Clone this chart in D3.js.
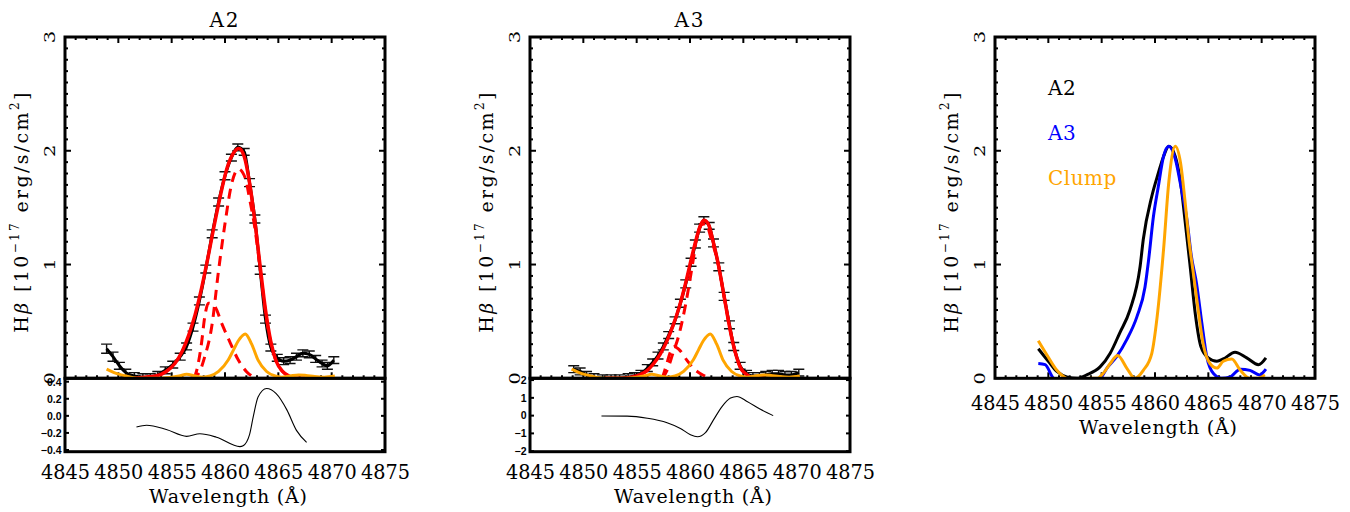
<!DOCTYPE html>
<html><head><meta charset="utf-8">
<script src="https://cdn.jsdelivr.net/npm/d3@7"></script>
<style>
body{margin:0;background:#fff}
svg{display:block}
text{font-family:"DejaVu Serif","Liberation Serif",serif;fill:#000}
.res{font-family:"Liberation Sans","DejaVu Sans",Arial,sans-serif;font-weight:bold}
</style>
</head><body>
<svg id="c" width="1350" height="512"></svg>
<script>
// ---------------- DATA ----------------
const xTicks = [4845, 4850, 4855, 4860, 4865, 4870, 4875];
const yTicks = [0, 1, 2, 3];
const resTicksA2 = [0.4, 0.2, 0.0, -0.2, -0.4];
const resTicksA3 = [2, 1, 0, -1, -2];
const legendLabels = ["A2", "A3", "Clump"];

// A2 observed spectrum
const a2Wave = [4848.9,4849.5,4850.1,4850.7,4851.5,4852.3,4853.0,4853.7,4854.4,4855.1,4855.8,4856.4,4857.0,4857.6,4858.2,4858.8,4859.4,4860.0,4860.6,4861.2,4861.8,4862.3,4862.8,4863.3,4863.8,4864.3,4864.9,4865.5,4866.1,4866.7,4867.3,4867.9,4868.5,4869.1,4869.6,4870.2];
const a2Flux = [0.26,0.19,0.11,0.05,0.02,0.01,0.01,0.03,0.07,0.12,0.19,0.28,0.45,0.68,0.96,1.27,1.55,1.78,1.94,2.03,1.99,1.72,1.40,0.95,0.52,0.27,0.18,0.15,0.16,0.19,0.22,0.21,0.17,0.13,0.11,0.16];
const a2Err  = [0.04,0.04,0.03,0.03,0.03,0.03,0.03,0.03,0.03,0.03,0.03,0.03,0.035,0.035,0.035,0.035,0.035,0.035,0.03,0.03,0.03,0.035,0.035,0.035,0.035,0.03,0.03,0.03,0.03,0.03,0.03,0.03,0.03,0.03,0.03,0.03];
// A2 fits
const a2TotWave = [4851.5,4852.5,4853.5,4854.5,4855.3,4856.0,4856.6,4857.2,4857.8,4858.4,4859.0,4859.6,4860.2,4860.8,4861.3,4861.8,4862.3,4862.8,4863.3,4863.8,4864.3,4864.8,4865.4,4866.0,4866.6,4867.5];
const a2TotFlux = [0.00,0.01,0.02,0.06,0.13,0.24,0.38,0.56,0.79,1.06,1.35,1.62,1.85,1.98,2.02,1.95,1.72,1.38,0.98,0.60,0.32,0.15,0.06,0.02,0.00,0.00];
const a2NarWave = [4856.8,4857.5,4858.1,4858.75,4859.4,4860.0,4860.6,4861.25,4861.9,4862.3,4862.8,4863.3,4863.8,4864.3,4864.8,4865.4,4866.0,4866.6];
const a2NarFlux = [0.00,0.04,0.19,0.45,0.95,1.36,1.70,1.84,1.76,1.58,1.32,0.96,0.58,0.31,0.15,0.06,0.02,0.00];
const a2BroWave = [4857.1,4857.35,4857.8,4858.1,4858.45,4859.05,4859.7,4860.5,4861.25,4862.0,4862.9];
const a2BroFlux = [0.00,0.07,0.31,0.54,0.66,0.63,0.48,0.31,0.16,0.06,0.00];
const a2Res = [[4851.7,-0.13],[4852.65,-0.11],[4854.5,-0.16],[4856.4,-0.24],[4857.65,-0.21],[4859.2,-0.25],[4861.4,-0.36],[4861.7,-0.35],[4862.3,-0.22],[4862.65,-0.01],[4863.1,0.22],[4863.9,0.32],[4864.8,0.26],[4865.8,0.07],[4866.7,-0.17],[4867.65,-0.31]];

// A3 observed spectrum
const a3Wave = [4849.1,4849.7,4850.3,4851.0,4851.8,4852.6,4853.4,4854.2,4854.8,4855.4,4856.0,4856.5,4857.0,4857.5,4858.0,4858.6,4859.1,4859.6,4860.1,4860.5,4860.9,4861.3,4861.8,4862.2,4862.7,4863.2,4863.7,4864.1,4864.7,4865.3,4865.9,4866.5,4867.1,4867.7,4868.3,4868.9,4869.5,4870.2];
const a3Flux = [0.08,0.06,0.03,0.01,0.00,0.00,0.00,0.01,0.02,0.04,0.09,0.14,0.20,0.28,0.38,0.51,0.66,0.83,1.02,1.18,1.32,1.39,1.34,1.19,0.98,0.72,0.47,0.28,0.11,0.04,0.02,0.02,0.03,0.04,0.04,0.03,0.03,0.05];
const a3Err  = [0.03,0.03,0.03,0.03,0.03,0.03,0.03,0.03,0.03,0.03,0.03,0.03,0.03,0.03,0.03,0.03,0.035,0.035,0.035,0.035,0.035,0.03,0.03,0.035,0.035,0.035,0.035,0.035,0.03,0.03,0.03,0.03,0.03,0.03,0.03,0.03,0.03,0.03];
const a3TotWave = [4852.0,4853.5,4854.5,4855.3,4856.0,4856.6,4857.2,4857.8,4858.4,4859.0,4859.6,4860.1,4860.6,4861.0,4861.3,4861.7,4862.2,4862.7,4863.2,4863.65,4864.1,4864.7,4865.35,4866.0,4867.0];
const a3TotFlux = [0.00,0.00,0.01,0.03,0.07,0.13,0.21,0.32,0.46,0.63,0.84,1.04,1.23,1.35,1.39,1.36,1.19,0.98,0.72,0.48,0.28,0.10,0.03,0.00,0.00];
const a3NarWave = [4857.4,4857.9,4858.4,4858.9,4859.55,4860.2,4860.65,4861.1,4861.5,4862.0,4862.7,4863.2,4863.65,4864.1,4864.7,4865.35,4866.0];
const a3NarFlux = [0.00,0.08,0.22,0.36,0.63,0.98,1.24,1.35,1.36,1.22,0.98,0.72,0.48,0.28,0.10,0.03,0.00];
const a3BroWave = [4857.4,4857.8,4858.2,4858.5,4859.0,4859.7,4860.3,4861.0,4861.9];
const a3BroFlux = [0.00,0.12,0.24,0.28,0.25,0.16,0.09,0.04,0.00];
const a3Res = [[4851.7,-0.02],[4854.1,-0.03],[4856.0,-0.15],[4857.85,-0.40],[4859.1,-0.72],[4860.0,-1.06],[4860.7,-1.19],[4861.45,-0.96],[4862.2,-0.24],[4863.0,0.51],[4863.8,0.99],[4864.4,1.08],[4865.35,0.80],[4866.6,0.36],[4867.8,0.0]];

// Clump profile as drawn in the A2/A3 panels
const clumpWave = [4848.9,4849.6,4850.3,4851.2,4852.0,4853.0,4854.0,4855.0,4855.7,4856.4,4857.2,4857.9,4858.6,4859.4,4860.3,4860.8,4861.25,4861.9,4862.5,4863.1,4863.9,4864.7,4865.3,4866.1,4866.9,4867.6,4868.4,4869.3,4870.3];
const clumpFlux = [0.08,0.05,0.03,0.01,0.00,0.00,0.00,0.01,0.02,0.035,0.02,0.01,0.02,0.06,0.16,0.25,0.33,0.39,0.30,0.16,0.06,0.02,0.01,0.02,0.03,0.025,0.015,0.01,0.02];

// Comparison panel (normalised profiles)
const cmpA2Wave = [4849.06,4850.0,4850.8,4851.8,4852.7,4853.6,4854.85,4855.8,4856.7,4857.65,4858.6,4858.9,4859.7,4860.3,4860.8,4861.3,4861.9,4862.4,4862.8,4863.3,4863.8,4864.3,4865.0,4865.8,4866.4,4867.5,4868.6,4869.7,4870.4];
const cmpA2Flux = [0.26,0.15,0.06,0.01,0.00,0.03,0.10,0.22,0.40,0.60,0.98,1.22,1.60,1.80,1.95,2.04,1.95,1.72,1.40,0.98,0.55,0.28,0.18,0.15,0.17,0.23,0.18,0.12,0.18];
const cmpA3Wave = [4849.06,4849.7,4850.5,4851.5,4853.0,4854.85,4855.5,4856.4,4857.35,4858.3,4859.06,4859.4,4859.85,4860.3,4860.8,4861.3,4861.9,4862.5,4863.0,4863.4,4863.9,4864.4,4864.85,4865.5,4866.25,4867.0,4868.0,4868.9,4869.8,4870.4];
const cmpA3Flux = [0.13,0.12,0.00,-0.03,-0.03,0.00,0.09,0.19,0.34,0.54,0.80,1.04,1.42,1.68,1.95,2.04,1.93,1.65,1.39,1.08,0.83,0.48,0.19,0.04,0.00,0.01,0.08,0.07,0.03,0.08];
const cmpClWave = [4849.06,4849.9,4850.8,4851.7,4852.8,4853.9,4854.6,4855.2,4855.8,4856.5,4857.35,4858.1,4858.9,4859.7,4860.2,4860.8,4861.3,4861.9,4862.4,4862.8,4863.2,4863.6,4864.05,4864.5,4865.15,4865.8,4866.4,4867.2,4868.0,4868.9,4869.6,4870.3];
const cmpClFlux = [0.33,0.20,0.07,0.00,-0.02,0.00,0.00,0.05,0.13,0.20,0.09,0.00,0.07,0.22,0.54,1.13,1.73,2.04,1.89,1.57,1.20,0.92,0.60,0.31,0.13,0.09,0.15,0.17,0.07,0.00,0.00,0.03];

// ---------------- DRAWING ----------------
const svg = d3.select("#c");
const W = 320, TOP = 37, BOT = 378.3, RBOT = 451.7;
const zip = (a, b) => a.map((v, i) => [v, b[i]]);
const FS = 19;

const panels = [
  {x0: 65,  title: "A2", res: a2Res, resDom: [-0.42, 0.44], resTicks: resTicksA2, resFmt: d3.format(".1f")},
  {x0: 530, title: "A3", res: a3Res, resDom: [-2.03, 2.1], resTicks: resTicksA3, resFmt: d3.format("d")},
  {x0: 995, title: "", res: null}
];

panels.forEach((p, i) => {
  const x = d3.scaleLinear().domain([4845, 4875]).range([p.x0, p.x0 + W]);
  const y = d3.scaleLinear().domain([0, 3]).range([BOT, TOP]);
  p.x = x; p.y = y;
  const g = svg.append("g");
  const cid = "clip" + i;
  svg.append("clipPath").attr("id", cid).append("rect")
    .attr("x", p.x0).attr("y", TOP).attr("width", W).attr("height", BOT - TOP);
  p.g = g; p.clip = "url(#" + cid + ")";

  // ticks main panel
  const tk = g.append("g").attr("stroke", "#000").attr("stroke-width", 2);
  d3.range(4845, 4875.01, 1).forEach(v => {
    const L = (v % 5 === 0) ? 6 : 3;
    tk.append("line").attr("x1", x(v)).attr("x2", x(v)).attr("y1", BOT).attr("y2", BOT - L);
    tk.append("line").attr("x1", x(v)).attr("x2", x(v)).attr("y1", TOP).attr("y2", TOP + L);
  });
  d3.range(0, 30.01, 1).forEach(k => {
    const v = k / 10;
    const L = (k % 10 === 0) ? 6 : 3;
    tk.append("line").attr("x1", x.range()[0]).attr("x2", x.range()[0] + L).attr("y1", y(v)).attr("y2", y(v));
    tk.append("line").attr("x1", x.range()[1]).attr("x2", x.range()[1] - L).attr("y1", y(v)).attr("y2", y(v));
  });

  // y tick labels (rotated)
  yTicks.forEach(v => {
    g.append("text").attr("transform", `translate(${p.x0 - 10},${y(v)}) rotate(-90) scale(1.3,1)`)
      .attr("text-anchor", "middle").attr("font-size", 15).text(v);
  });

  // y axis title
  const yt = g.append("text").attr("transform", `translate(${p.x0 - 37},${(TOP + BOT) / 2 + 5}) rotate(-90)`)
    .attr("text-anchor", "middle").attr("font-size", FS)
    .attr("textLength", 240).attr("lengthAdjust", "spacing");
  yt.append("tspan").text("H");
  yt.append("tspan").attr("font-style", "italic").text("\u03B2");
  yt.append("tspan").text(" [10");
  yt.append("tspan").attr("font-size", 12).attr("dy", -9).text("\u221217");
  yt.append("tspan").attr("dy", 9).text(" erg/s/cm");
  yt.append("tspan").attr("font-size", 12).attr("dy", -9).text("2");
  yt.append("tspan").attr("dy", 9).text("]");

  if (p.title) {
    g.append("text").attr("x", p.x0 + W / 2).attr("y", 27).attr("text-anchor", "middle")
      .attr("font-size", FS + 1).attr("letter-spacing", 2).text(p.title);
  }

  // residual panel
  let labY, titY;
  if (p.res) {
    const yr = d3.scaleLinear().domain(p.resDom).range([RBOT, BOT]);
    p.yr = yr;
    p.resTicks.forEach(v => {
      g.append("line").attr("x1", p.x0).attr("x2", p.x0 + 4).attr("y1", yr(v)).attr("y2", yr(v)).attr("stroke", "#000").attr("stroke-width", 2);
      g.append("line").attr("x1", p.x0 + W).attr("x2", p.x0 + W - 4).attr("y1", yr(v)).attr("y2", yr(v)).attr("stroke", "#000").attr("stroke-width", 2);
      g.append("text").attr("class", "res").attr("x", p.x0 - 3.5).attr("y", yr(v) + 3.8)
        .attr("text-anchor", "end").attr("font-size", 10.5).text(p.resFmt(v).replace("-", "\u2212"));
    });
    g.append("path").attr("d", d3.line().x(d => x(d[0])).y(d => yr(d[1])).curve(d3.curveMonotoneX)(p.res))
      .attr("fill", "none").attr("stroke", "#000").attr("stroke-width", 1.1);
    g.append("rect").attr("x", p.x0).attr("y", BOT).attr("width", W).attr("height", RBOT - BOT)
      .attr("fill", "none").attr("stroke", "#000").attr("stroke-width", 3);
    labY = 478.5; titY = 503;
  } else {
    labY = 410; titY = 433.5;
  }
  xTicks.forEach(v => {
    g.append("text").attr("x", x(v) + 0.5).attr("y", labY).attr("text-anchor", "middle")
      .attr("font-size", FS + 1).attr("textLength", 49).attr("lengthAdjust", "spacingAndGlyphs").text(v);
  });
  g.append("text").attr("x", p.x0 + W / 2 + 3).attr("y", titY).attr("text-anchor", "middle")
    .attr("font-size", FS).attr("textLength", 158).attr("lengthAdjust", "spacing").text("Wavelength (\u00C5)");
});

function line(p) {
  return d3.line().x(d => p.x(d[0])).y(d => p.y(d[1])).curve(d3.curveMonotoneX);
}

function drawFitPanel(p, wave, flux, err, tw, tf, nw, nf, bw, bf) {
  const g = p.g.append("g").attr("clip-path", p.clip);
  const pts = zip(wave, flux);
  const eb = g.append("g").attr("stroke", "#111").attr("stroke-width", 1.4);
  pts.forEach((d, i) => {
    const xx = p.x(d[0]), y1 = p.y(d[1] - err[i]), y2 = p.y(d[1] + err[i]);
    eb.append("line").attr("x1", xx).attr("x2", xx).attr("y1", y1).attr("y2", y2);
    eb.append("line").attr("x1", xx - 5.5).attr("x2", xx + 5.5).attr("y1", y1).attr("y2", y1);
    eb.append("line").attr("x1", xx - 5.5).attr("x2", xx + 5.5).attr("y1", y2).attr("y2", y2);
  });
  g.append("path").attr("d", line(p)(pts)).attr("fill", "none").attr("stroke", "#000").attr("stroke-width", 3);
  g.append("path").attr("d", line(p)(zip(tw, tf))).attr("fill", "none").attr("stroke", "#ff0000").attr("stroke-width", 3.5);
  g.append("path").attr("d", line(p)(zip(nw, nf))).attr("fill", "none").attr("stroke", "#ff0000").attr("stroke-width", 3).attr("stroke-dasharray", "10,7");
  g.append("path").attr("d", line(p)(zip(bw, bf))).attr("fill", "none").attr("stroke", "#ff0000").attr("stroke-width", 3).attr("stroke-dasharray", "10,7");
  g.append("path").attr("d", line(p)(zip(clumpWave, clumpFlux))).attr("fill", "none").attr("stroke", "#ffa500").attr("stroke-width", 3);
}

drawFitPanel(panels[0], a2Wave, a2Flux, a2Err, a2TotWave, a2TotFlux, a2NarWave, a2NarFlux, a2BroWave, a2BroFlux);
drawFitPanel(panels[1], a3Wave, a3Flux, a3Err, a3TotWave, a3TotFlux, a3NarWave, a3NarFlux, a3BroWave, a3BroFlux);

// comparison panel
(function () {
  const p = panels[2];
  const g = p.g.append("g").attr("clip-path", p.clip);
  const series = [[cmpA2Wave, cmpA2Flux, "#000"], [cmpA3Wave, cmpA3Flux, "#0000ff"], [cmpClWave, cmpClFlux, "#ffa500"]];
  series.forEach(s => {
    g.append("path").attr("d", line(p)(zip(s[0], s[1]))).attr("fill", "none").attr("stroke", s[2]).attr("stroke-width", 3);
  });
  const cols = ["#000", "#0000ff", "#ffa500"];
  const ly = [95, 140, 185];
  legendLabels.forEach((t, i) => {
    p.g.append("text").attr("x", 1048).attr("y", ly[i]).attr("font-size", FS + 1).attr("letter-spacing", 0.5)
      .style("fill", cols[i]).text(t);
  });
})();

// frames on top
panels.forEach(p => {
  p.g.append("rect").attr("x", p.x0).attr("y", TOP).attr("width", W).attr("height", BOT - TOP)
    .attr("fill", "none").attr("stroke", "#000").attr("stroke-width", 3);
});
</script>
</body></html>
